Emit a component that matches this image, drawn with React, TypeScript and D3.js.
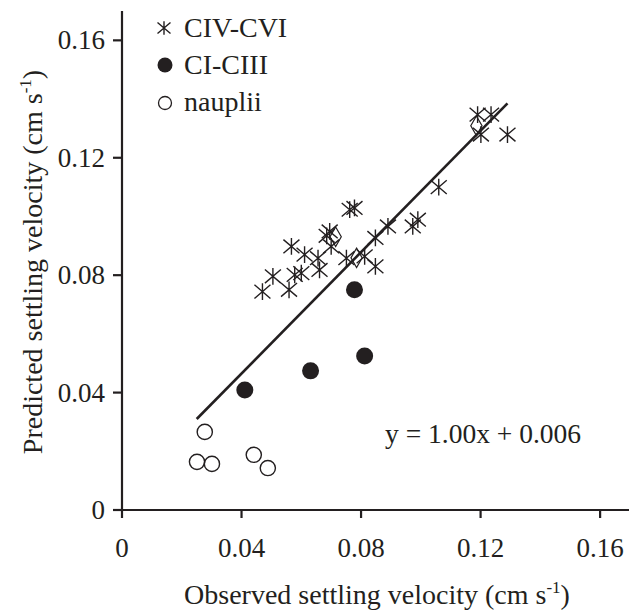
import React from "react";
import * as d3 from "d3";

const W = 629;
const H = 611;

// CIV-CVI (asterisks): observed, predicted
const civObs = [0.047, 0.0505, 0.0559, 0.0578, 0.06, 0.0567, 0.0611, 0.0656, 0.0661, 0.0685, 0.0695, 0.07, 0.0762, 0.0778, 0.0751, 0.0812, 0.0848, 0.0848, 0.089, 0.0973, 0.099, 0.106, 0.119, 0.1235, 0.1201, 0.129];
const civPred = [0.0744, 0.0796, 0.075, 0.0801, 0.0807, 0.0898, 0.087, 0.0858, 0.0818, 0.0934, 0.0949, 0.0898, 0.1023, 0.1029, 0.0858, 0.0864, 0.0927, 0.083, 0.0966, 0.0966, 0.0989, 0.11, 0.1347, 0.1347, 0.1279, 0.1279];

// CI-CIII (filled circles)
const ciObs = [0.0411, 0.0631, 0.0778, 0.0812];
const ciPred = [0.0409, 0.0474, 0.075, 0.0525];

// nauplii (open circles)
const naObs = [0.0277, 0.0251, 0.0301, 0.0441, 0.0488];
const naPred = [0.0266, 0.0164, 0.0157, 0.0188, 0.0143];

// partially hidden diamond marks visible under the asterisks
const hidObs = [0.0715, 0.0785, 0.1186];
const hidPred = [0.0931, 0.0859, 0.1309];

// regression line endpoints (as drawn)
const lineObs = [0.025, 0.129];
const linePred = [0.031, 0.1385];

const ticks = [0, 0.04, 0.08, 0.12, 0.16];
const tickLabels = ["0", "0.04", "0.08", "0.12", "0.16"];

const legendLabels = ["CIV-CVI", "CI-CIII", "nauplii"];
const equation = "y = 1.00x + 0.006";

const INK = "#231f20";
const FONT = "Liberation Serif, Times New Roman, Times, DejaVu Serif, serif";

const x = d3.scaleLinear().domain([0, 0.17]).range([122, 630]);
const y = d3.scaleLinear().domain([0, 0.17]).range([510, 11]);

function Asterisk({ cx, cy, s = 8 }: { cx: number; cy: number; s?: number }) {
  const d = `M${cx},${cy - s * 1.05}L${cx},${cy + s * 1.05}M${cx - s},${cy - s * 0.85}L${cx + s},${cy + s * 0.85}M${cx - s},${cy + s * 0.85}L${cx + s},${cy - s * 0.85}`;
  return <path d={d} stroke={INK} strokeWidth={1.4} fill="none" />;
}

const txt = { fontFamily: FONT };

export default function App() {
  const line = d3.line<number>().x((_, i) => x(lineObs[i])).y((_, i) => y(linePred[i]));
  const diamond = d3.symbol().type(d3.symbolDiamond).size(110);
  return (
    <svg width={W} height={H} style={{ position: "absolute", left: 0, top: 0, background: "#fff", fontFamily: FONT }}>
      <rect width={W} height={H} fill="#fff" />
      {/* axes */}
      <line x1={x(0)} x2={x(0.17)} y1={y(0)} y2={y(0)} stroke={INK} strokeWidth={2.2} />
      <line x1={x(0)} x2={x(0)} y1={y(0) + 1} y2={y(0.17)} stroke={INK} strokeWidth={2.2} />
      {ticks.map((t, i) => (
        <g key={"xt" + i}>
          <line x1={x(t)} x2={x(t)} y1={y(0)} y2={y(0) + 8} stroke={INK} strokeWidth={2.2} />
          <text x={x(t)} y={557} fontSize={27} textAnchor="middle" fill={INK} style={txt}>{tickLabels[i]}</text>
        </g>
      ))}
      {ticks.map((t, i) => (
        <g key={"yt" + i}>
          <line x1={x(0) - 9} x2={x(0)} y1={y(t)} y2={y(t)} stroke={INK} strokeWidth={2.2} />
          <text x={105} y={y(t) + 9} fontSize={27} textAnchor="end" fill={INK} style={txt}>{tickLabels[i]}</text>
        </g>
      ))}
      {/* axis titles */}
      <text x={377} y={604} fontSize={28} textAnchor="middle" fill={INK} style={txt}>
        Observed settling velocity (cm s<tspan dy={-11} fontSize={17}>-1</tspan><tspan dy={11}>)</tspan>
      </text>
      <text transform={`translate(42,262) rotate(-90)`} fontSize={28} textAnchor="middle" fill={INK} style={txt}>
        Predicted settling velocity (cm s<tspan dy={-11} fontSize={17}>-1</tspan><tspan dy={11}>)</tspan>
      </text>
      {/* hidden diamonds */}
      {hidObs.map((v, i) => (
        <path key={"hd" + i} d={diamond() || ""} transform={`translate(${x(v)},${y(hidPred[i])})`} fill="#fff" stroke={INK} strokeWidth={1.2} />
      ))}
      {/* asterisks */}
      {civObs.map((v, i) => (
        <Asterisk key={"a" + i} cx={x(v)} cy={y(civPred[i])} />
      ))}
      {/* regression line */}
      <path d={line([0, 1]) || ""} stroke={INK} strokeWidth={2.6} fill="none" />
      {/* filled circles */}
      {ciObs.map((v, i) => (
        <circle key={"c" + i} cx={x(v)} cy={y(ciPred[i])} r={8.5} fill={INK} />
      ))}
      {/* open circles */}
      {naObs.map((v, i) => (
        <circle key={"n" + i} cx={x(v)} cy={y(naPred[i])} r={7.6} fill="none" stroke={INK} strokeWidth={1.4} />
      ))}
      {/* legend */}
      <Asterisk cx={164} cy={28} s={6.5} />
      <circle cx={165} cy={65} r={7.5} fill={INK} />
      <circle cx={165} cy={103} r={6.5} fill="none" stroke={INK} strokeWidth={1.3} />
      {legendLabels.map((l, i) => (
        <text key={"l" + i} x={184} y={37 + i * 37} fontSize={28} fill={INK} style={txt}>{l}</text>
      ))}
      <text x={385} y={443} fontSize={27.5} fill={INK} style={txt}>{equation}</text>
    </svg>
  );
}
